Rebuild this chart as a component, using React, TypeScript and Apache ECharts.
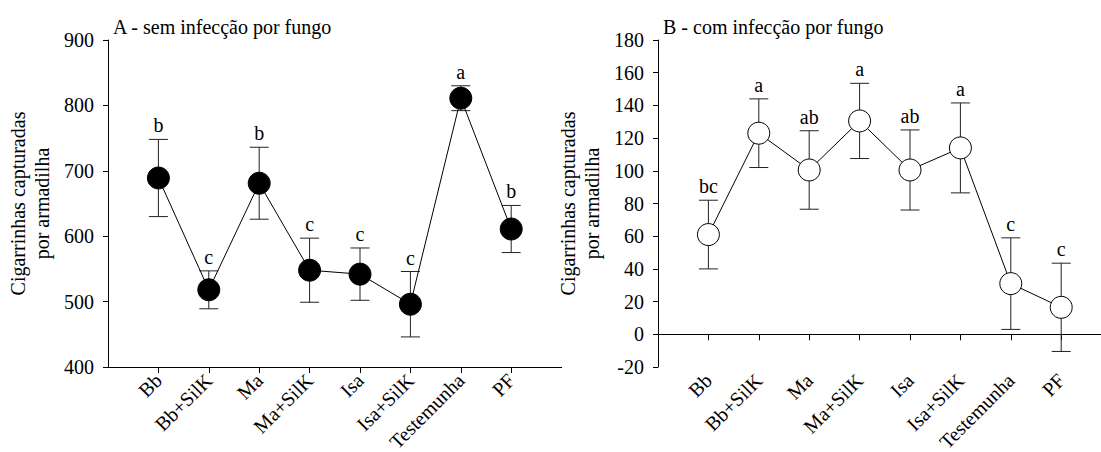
import React, { useEffect, useRef } from "react";
import * as echarts from "echarts";

const categories = ["Bb", "Bb+SilK", "Ma", "Ma+SilK", "Isa", "Isa+SilK", "Testemunha", "PF"];

// Panel A - sem infecção por fungo
const meanA = [689, 518, 681, 548, 542, 496, 811, 611];
const errA = [59, 29, 55, 49, 40, 50, 19, 36];
const lettersA = ["b", "c", "b", "c", "c", "c", "a", "b"];

// Panel B - com infecção por fungo
const meanB = [61, 123, 100.5, 130.5, 100.5, 114, 31, 16.5];
const errB = [21, 21, 24, 23, 24.5, 27.5, 28, 27];
const lettersB = ["bc", "a", "ab", "a", "ab", "a", "c", "c"];

const titleA = "A - sem infecção por fungo";
const titleB = "B - com infecção por fungo";
const yName = "Cigarrinhas capturadas\npor armadilha";

const FONT = "'Liberation Serif', 'Times New Roman', serif";
const positions = categories.map((_, i) => i + 1);

function makeXAxis(gridIndex: number) {
  return {
    type: "value",
    gridIndex,
    min: 0,
    max: 9,
    interval: 1,
    axisLine: { show: true, lineStyle: { color: "#000", width: 1 } },
    axisTick: { show: true, customValues: positions, length: 6, lineStyle: { color: "#000" } },
    axisLabel: {
      customValues: positions,
      rotate: 45,
      margin: 10,
      fontSize: 20,
      fontFamily: FONT,
      color: "#000",
      formatter: (v: number) => categories[Math.round(v) - 1] ?? "",
    },
    splitLine: { show: false },
  };
}

function makeYAxis(gridIndex: number, min: number, max: number, interval: number) {
  return {
    type: "value",
    gridIndex,
    min,
    max,
    interval,
    name: yName,
    nameLocation: "middle",
    nameRotate: 90,
    nameGap: 54,
    nameTextStyle: { fontSize: 20, lineHeight: 24, fontFamily: FONT, color: "#000" },
    axisLine: { show: true, lineStyle: { color: "#000", width: 1 } },
    axisTick: { show: true, inside: false, length: 5, lineStyle: { color: "#000" } },
    axisLabel: { fontSize: 20, fontFamily: FONT, color: "#000", margin: 14 },
    splitLine: { show: false },
  };
}

function errSeries(idx: number, mean: number[], err: number[], letters: string[]) {
  return {
    type: "custom",
    xAxisIndex: idx,
    yAxisIndex: idx,
    z: 1,
    encode: { x: 0, y: [1, 2] },
    data: mean.map((m, i) => [i + 1, m - err[i], m + err[i]]),
    renderItem: (params: any, api: any) => {
      const x = api.value(0);
      const lo = api.coord([x, api.value(1)]);
      const hi = api.coord([x, api.value(2)]);
      const hw = 9.5;
      const st = { stroke: "#222", lineWidth: 1 };
      return {
        type: "group",
        children: [
          { type: "line", shape: { x1: lo[0], y1: lo[1], x2: hi[0], y2: hi[1] }, style: st },
          { type: "line", shape: { x1: hi[0] - hw, y1: hi[1], x2: hi[0] + hw, y2: hi[1] }, style: st },
          { type: "line", shape: { x1: lo[0] - hw, y1: lo[1], x2: lo[0] + hw, y2: lo[1] }, style: st },
          {
            type: "text",
            x: hi[0],
            y: hi[1] - 4,
            style: {
              text: letters[params.dataIndex],
              fill: "#000",
              fontSize: 20,
              fontFamily: FONT,
              align: "center",
              verticalAlign: "bottom",
            },
          },
        ],
      };
    },
  };
}

export default function App() {
  const ref = useRef<HTMLDivElement>(null);
  useEffect(() => {
    if (!ref.current) return;
    const chart = echarts.init(ref.current, null, { renderer: "svg" });
    chart.setOption({
      animation: false,
      backgroundColor: "#fff",
      title: [
        { text: titleA, left: 108, top: 12, textStyle: { fontSize: 20, fontWeight: "normal", fontFamily: FONT, color: "#000" } },
        { text: titleB, left: 658, top: 12, textStyle: { fontSize: 20, fontWeight: "normal", fontFamily: FONT, color: "#000" } },
      ],
      grid: [
        { left: 108, top: 40, width: 453.6, height: 327, containLabel: false, outerBoundsMode: "none" },
        { left: 658, top: 40, width: 453.6, height: 327, containLabel: false, outerBoundsMode: "none" },
      ],
      xAxis: [makeXAxis(0), makeXAxis(1)],
      yAxis: [makeYAxis(0, 400, 900, 100), makeYAxis(1, -20, 180, 20)],
      series: [
        errSeries(0, meanA, errA, lettersA),
        errSeries(1, meanB, errB, lettersB),
        {
          type: "line",
          xAxisIndex: 0,
          yAxisIndex: 0,
          z: 3,
          data: meanA.map((m, i) => [i + 1, m]),
          symbol: "circle",
          symbolSize: 22,
          itemStyle: { color: "#000", borderColor: "#000", borderWidth: 1 },
          lineStyle: { color: "#000", width: 1 },
        },
        {
          type: "line",
          xAxisIndex: 1,
          yAxisIndex: 1,
          z: 3,
          data: meanB.map((m, i) => [i + 1, m]),
          symbol: "circle",
          symbolSize: 22,
          itemStyle: { color: "#fff", borderColor: "#000", borderWidth: 1 },
          lineStyle: { color: "#000", width: 1 },
        },
      ],
    });
    return () => chart.dispose();
  }, []);
  return (
    <div
      ref={ref}
      style={{ position: "fixed", left: 0, top: 0, width: 1101, height: 452, background: "#fff" }}
    />
  );
}
